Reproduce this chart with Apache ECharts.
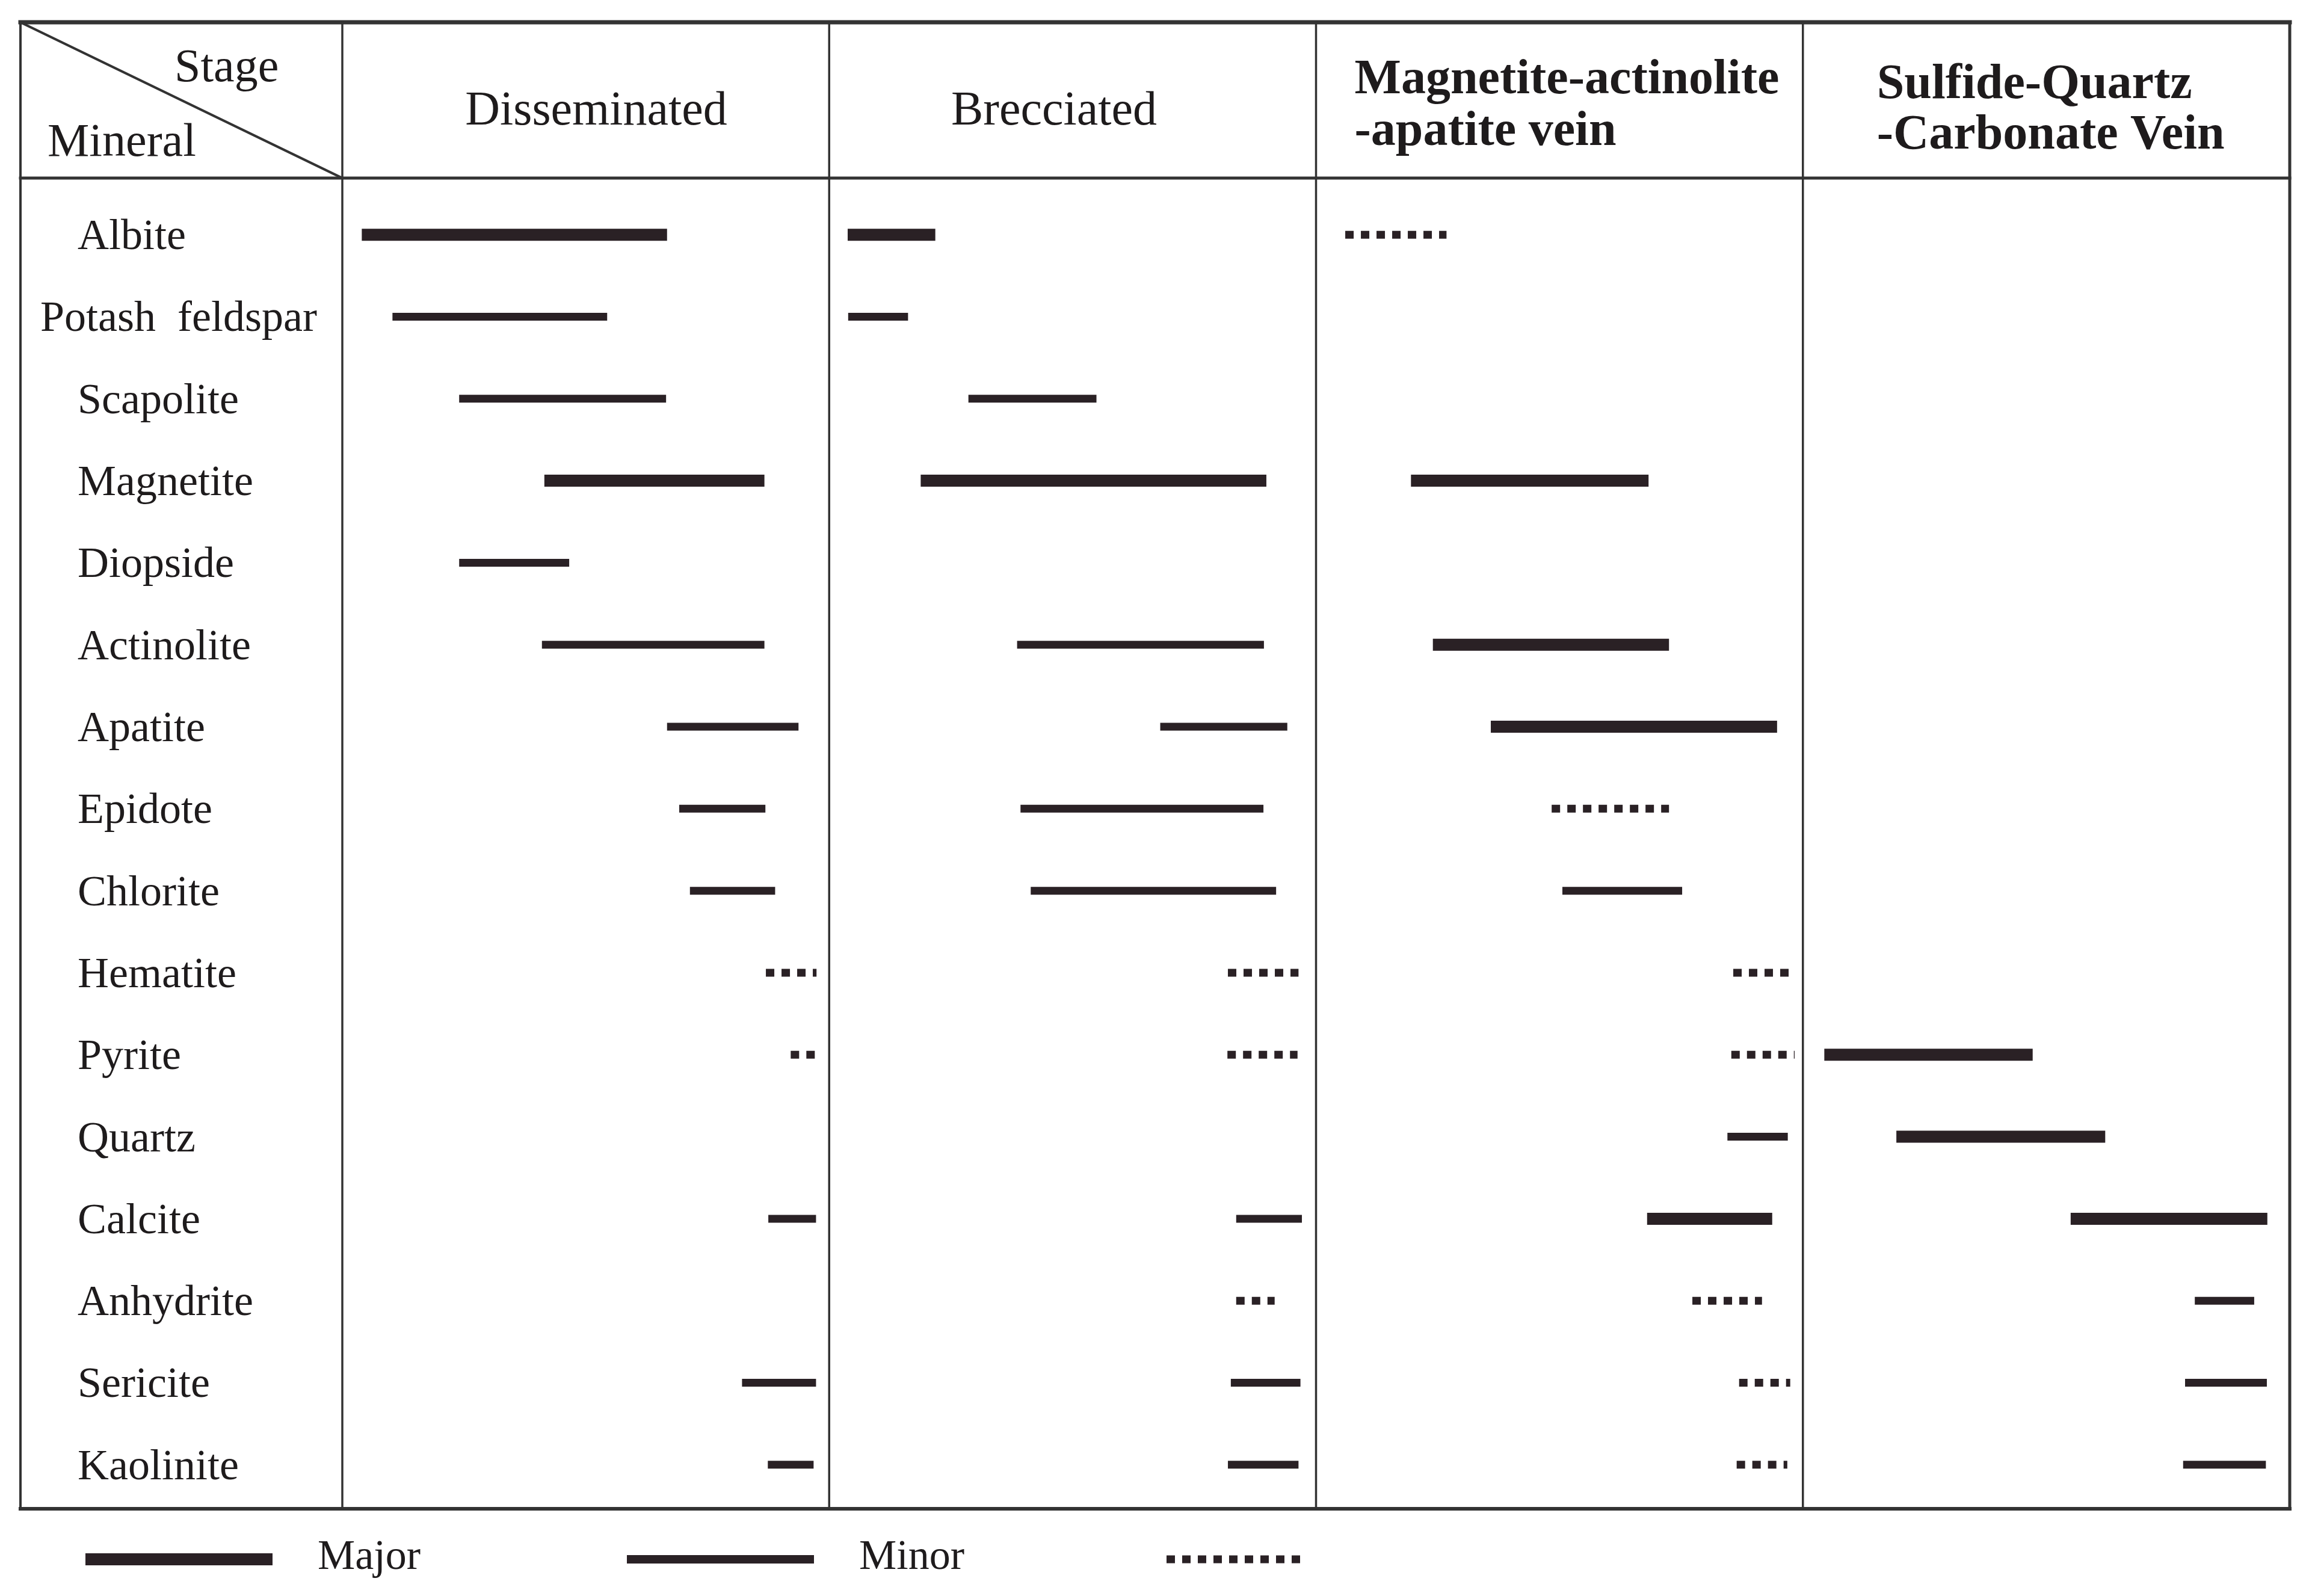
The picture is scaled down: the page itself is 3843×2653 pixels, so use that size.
<!DOCTYPE html>
<html><head><meta charset="utf-8">
<script src="https://cdn.jsdelivr.net/npm/echarts@6/dist/echarts.min.js"></script>
<style>html,body{margin:0;padding:0;background:#fff}#c{width:3843px;height:2653px}</style>
</head><body><div id="c"></div>
<script>
// ---------- data ----------
const minerals = ['Albite','Potash  feldspar','Scapolite','Magnetite','Diopside','Actinolite','Apatite','Epidote','Chlorite','Hematite','Pyrite','Quartz','Calcite','Anhydrite','Sericite','Kaolinite'];
const stageTitles = [['Disseminated'],['Brecciated'],['Magnetite-actinolite','-apatite vein'],['Sulfide-Quartz','-Carbonate Vein']];
// [mineral, start, end (fraction of stage), abundance]
const disseminated = [
  ['Albite',0.040,0.667,'major'],['Potash  feldspar',0.103,0.544,'minor'],['Scapolite',0.240,0.665,'minor'],
  ['Magnetite',0.415,0.867,'major'],['Diopside',0.240,0.466,'minor'],['Actinolite',0.410,0.867,'minor'],
  ['Apatite',0.667,0.937,'minor'],['Epidote',0.692,0.869,'minor'],['Chlorite',0.714,0.889,'minor'],
  ['Hematite',0.870,0.974,'trace'],['Pyrite',0.921,0.971,'trace'],['Calcite',0.875,0.973,'minor'],
  ['Sericite',0.821,0.973,'minor'],['Kaolinite',0.874,0.968,'minor']
];
const brecciated = [
  ['Albite',0.038,0.218,'major'],['Potash  feldspar',0.039,0.162,'minor'],['Scapolite',0.286,0.549,'minor'],
  ['Magnetite',0.188,0.898,'major'],['Actinolite',0.386,0.893,'minor'],['Apatite',0.680,0.941,'minor'],
  ['Epidote',0.393,0.892,'minor'],['Chlorite',0.414,0.918,'minor'],['Hematite',0.819,0.964,'trace'],
  ['Pyrite',0.818,0.962,'trace'],['Calcite',0.836,0.971,'minor'],['Anhydrite',0.836,0.915,'trace'],
  ['Sericite',0.825,0.968,'minor'],['Kaolinite',0.819,0.964,'minor']
];
const magnetiteVein = [
  ['Albite',0.060,0.268,'trace'],['Magnetite',0.195,0.683,'major'],['Actinolite',0.240,0.725,'major'],
  ['Apatite',0.359,0.947,'major'],['Epidote',0.484,0.725,'trace'],['Chlorite',0.506,0.752,'minor'],
  ['Hematite',0.857,0.971,'trace'],['Pyrite',0.853,0.983,'trace'],['Quartz',0.845,0.969,'minor'],
  ['Calcite',0.680,0.937,'major'],['Anhydrite',0.773,0.916,'trace'],['Sericite',0.869,0.974,'trace'],
  ['Kaolinite',0.864,0.968,'trace']
];
const sulfideVein = [
  ['Pyrite',0.044,0.472,'major'],['Quartz',0.192,0.621,'major'],['Calcite',0.550,0.954,'major'],
  ['Anhydrite',0.805,0.927,'minor'],['Sericite',0.785,0.953,'minor'],['Kaolinite',0.781,0.951,'minor']
];
const legendItems = [['major','Major'],['minor','Minor'],['trace','']];

// ---------- styles ----------
const INK = '#2a2125';
const LINE = '#333333';
const FONT = 'Liberation Serif';
const abundance = ['major','minor','trace'];
const lineStyles = {
  major: {lineWidth: 20, lineDash: null},
  minor: {lineWidth: 13, lineDash: null},
  trace: {lineWidth: 13, lineDash: [14, 12]}
};

const stages = [disseminated, brecciated, magnetiteVein, sulfideVein];
const segData = [];
stages.forEach((arr, si) => arr.forEach(([m, s, e, t]) => {
  segData.push([si + s, si + e, minerals.indexOf(m), abundance.indexOf(t)]);
}));

const chart = echarts.init(document.getElementById('c'), null, {renderer: 'canvas'});
const G = {left: 569, right: 37, top: 322, height: 2181};
chart.setOption({
  backgroundColor: '#ffffff',
  animation: false,
  grid: {left: G.left, right: G.right, top: G.top, height: G.height, containLabel: false},
  xAxis: {type: 'value', min: 0, max: 4, interval: 1, show: false},
  yAxis: {
    type: 'category', data: minerals, inverse: true,
    axisLine: {show: false}, axisTick: {show: false}, splitLine: {show: false},
    axisLabel: {
      interval: 0, align: 'left', margin: 502,
      formatter: v => (v.indexOf('feldspar') >= 0 ? '{p|' + v + '}' : '{n|' + v + '}'),
      rich: {
        n: {fontFamily: FONT, fontSize: 72, color: '#1e1b1c', padding: [10, 0, 0, 62]},
        p: {fontFamily: FONT, fontSize: 72, color: '#1e1b1c', padding: [10, 0, 0, 0]}
      }
    }
  },
  series: [{
    type: 'custom', clip: false,
    encode: {x: [0, 1], y: 2},
    data: segData,
    renderItem: (params, api) => {
      const row = api.value(2);
      const p0 = api.coord([api.value(0), row]);
      const p1 = api.coord([api.value(1), row]);
      const st = lineStyles[abundance[api.value(3)]];
      return {type: 'line', shape: {x1: p0[0], y1: p0[1], x2: p1[0], y2: p1[1]},
        style: {stroke: INK, lineWidth: st.lineWidth, lineDash: st.lineDash, lineCap: 'butt'}};
    }
  }]
});

// ---------- table frame, headers, legend ----------
const T = {left: 34, right: 3806, top: 37, header: 296, bottom: 2508};
const dividers = [0, 1, 2, 3].map(i => chart.convertToPixel({xAxisIndex: 0}, i));
const g = [];
const ln = (x1, y1, x2, y2, w) => g.push({type: 'line', silent: true, z: 10,
  shape: {x1, y1, x2, y2}, style: {stroke: LINE, lineWidth: w, lineCap: 'square'}});
ln(T.left, T.top, T.right, T.top, 7);
ln(T.left, T.bottom, T.right, T.bottom, 6);
ln(T.left, T.header, T.right, T.header, 5);
ln(T.left, T.top, T.left, T.bottom, 4);
ln(T.right, T.top, T.right, T.bottom, 5);
dividers.forEach(x => ln(x, T.top, x, T.bottom, 3.5));
ln(T.left, T.top, dividers[0], T.header, 4);

const txt = (text, x, y, size, weight, align) => g.push({type: 'text', silent: true, z: 11, x, y,
  style: {text, fontFamily: FONT, fontSize: size, fontWeight: weight, fill: '#1e1b1c',
    align: align, verticalAlign: 'middle'}});
txt('Stage', 290, 115, 78, 'normal', 'left');
txt('Mineral', 79, 239, 78, 'normal', 'left');
txt(stageTitles[0][0], 991, 186, 80, 'normal', 'center');
txt(stageTitles[1][0], 1752, 186, 80, 'normal', 'center');
txt(stageTitles[2][0], dividers[2] + 64, 134, 82, 'bold', 'left');
txt(stageTitles[2][1], dividers[2] + 64, 220, 82, 'bold', 'left');
txt(stageTitles[3][0], dividers[3] + 123, 142, 82, 'bold', 'left');
txt(stageTitles[3][1], dividers[3] + 123, 226, 82, 'bold', 'left');

// legend
const legX = [142, 1042, 1939];
const legLen = [311, 311, 222];
legendItems.forEach(([t, label], i) => {
  const st = lineStyles[t];
  g.push({type: 'line', silent: true, z: 11,
    shape: {x1: legX[i], y1: 2592, x2: legX[i] + legLen[i], y2: 2592},
    style: {stroke: INK, lineWidth: t === 'minor' ? 14 : st.lineWidth, lineDash: st.lineDash, lineCap: 'butt'}});
  if (label) txt(label, legX[i] + 386, 2590, 70, 'normal', 'left');
});
chart.setOption({graphic: {elements: g}});
</script>
</body></html>
